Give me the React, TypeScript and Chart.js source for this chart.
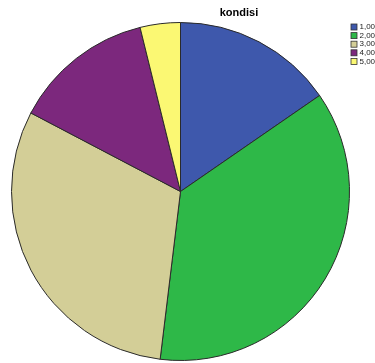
import React, { useEffect, useRef } from "react";
import { Chart, registerables } from "chart.js";

Chart.register(...registerables);

const categories = ["1,00", "2,00", "3,00", "4,00", "5,00"];
const counts = [8, 19, 16, 7, 2];
const colors = ["#3E58AC", "#2EB848", "#D3CE97", "#7C287D", "#FBF873"];
const titleText = "kondisi";

const overlayPlugin = {
  id: "overlay",
  afterDraw(chart: any) {
    const ctx = chart.ctx;
    ctx.save();
    // title
    ctx.fillStyle = "#000";
    ctx.font = "bold 11px 'Liberation Sans', Arial, sans-serif";
    ctx.textAlign = "center";
    ctx.textBaseline = "middle";
    ctx.fillText(titleText, 239, 13);
    // legend
    ctx.font = "8px 'Liberation Sans', Arial, sans-serif";
    ctx.textAlign = "left";
    const labels: string[] = chart.data.labels;
    const bg: string[] = chart.data.datasets[0].backgroundColor;
    labels.forEach((l, i) => {
      const y = 27 + i * 8.6;
      ctx.fillStyle = bg[i];
      ctx.fillRect(351, y - 3, 6, 6);
      ctx.strokeStyle = "#333";
      ctx.lineWidth = 0.8;
      ctx.strokeRect(351, y - 3, 6, 6);
      ctx.fillStyle = "#222";
      ctx.fillText(l, 359.5, y);
    });
    ctx.restore();
  },
};

export default function App() {
  const ref = useRef<HTMLCanvasElement>(null);
  useEffect(() => {
    document.body.style.margin = "0";
    const chart = new Chart(ref.current!, {
      type: "pie",
      data: {
        labels: categories,
        datasets: [
          {
            data: counts,
            backgroundColor: colors,
            borderColor: "#2a2a2a",
            borderWidth: 1,
          },
        ],
      },
      options: {
        responsive: false,
        animation: false,
        layout: { padding: { left: 11, right: 25, top: 22, bottom: 2 } },
        plugins: {
          legend: { display: false },
          tooltip: { enabled: false },
        },
      },
      plugins: [overlayPlugin],
    });
    return () => chart.destroy();
  }, []);
  return (
    <div style={{ width: 375, height: 363, background: "#fff" }}>
      <canvas ref={ref} width={375} height={363} />
    </div>
  );
}
